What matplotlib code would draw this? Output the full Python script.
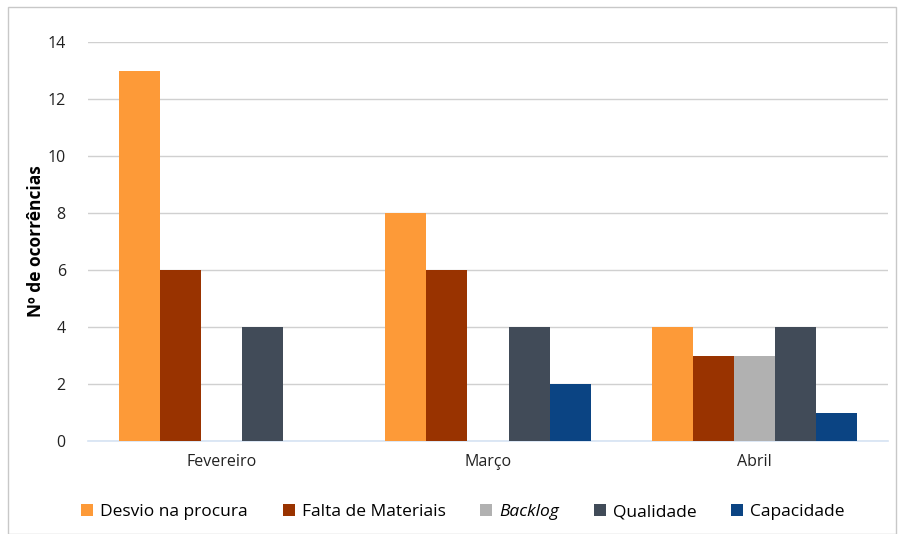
import numpy as np
import matplotlib.pyplot as plt
from matplotlib.patches import Rectangle

plt.rcParams['font.family'] = ['Open Sans', 'DejaVu Sans']

months = ["Fevereiro", "Março", "Abril"]
series = ["Desvio na procura", "Falta de Materiais", "Backlog", "Qualidade", "Capacidade"]
desvio = [13, 8, 4]
falta = [6, 6, 3]
backlog = [0, 0, 3]
qualidade = [4, 4, 4]
capacidade = [0, 2, 1]
colors = ["#FD9A38", "#993300", "#B1B1B1", "#414B58", "#0B4483"]

values = [desvio, falta, backlog, qualidade, capacidade]

fig = plt.figure(figsize=(9.03, 5.34), dpi=100)
ax = fig.add_axes([88 / 903, 1 - 441 / 534, 800 / 903, 399 / 534])

x = np.arange(len(months))
w = 0.154
for i, (name, vals) in enumerate(zip(series, values)):
    ax.bar(x + (i - 2) * w, vals, w, color=colors[i], label=name, zorder=3)

ax.set_xlim(-0.5, 2.5)
ax.set_ylim(0, 14)
ax.set_yticks(range(0, 15, 2))
ax.set_xticks(x)
ax.set_xticklabels(months)
ax.tick_params(axis='both', length=0, labelsize=11.5, colors='#222222')
ax.tick_params(axis='y', pad=16)
ax.tick_params(axis='x', pad=9)
ax.grid(axis='y', color='#D0D0D0', linewidth=1, zorder=0)
for s in ['top', 'right', 'left']:
    ax.spines[s].set_visible(False)
ax.spines['bottom'].set_color('#D6E3F3')
ax.spines['bottom'].set_linewidth(1.2)
ax.set_ylabel("Nº de ocorrências", fontsize=12.5, fontweight='bold', labelpad=2)

leg = fig.legend(loc='center', bbox_to_anchor=(463 / 903, 1 - 512 / 534), ncol=5,
                 frameon=False, fontsize=12.5, handlelength=0.7, handleheight=0.7,
                 handletextpad=0.4, columnspacing=2.0)
leg.get_texts()[2].set_style('italic')

fig.patches.append(Rectangle((8 / 903, 0), 888 / 903, 1 - 7 / 534, transform=fig.transFigure,
                             fill=False, edgecolor='#C8C8C8', linewidth=1))

fig.savefig("out.png", dpi=100)
